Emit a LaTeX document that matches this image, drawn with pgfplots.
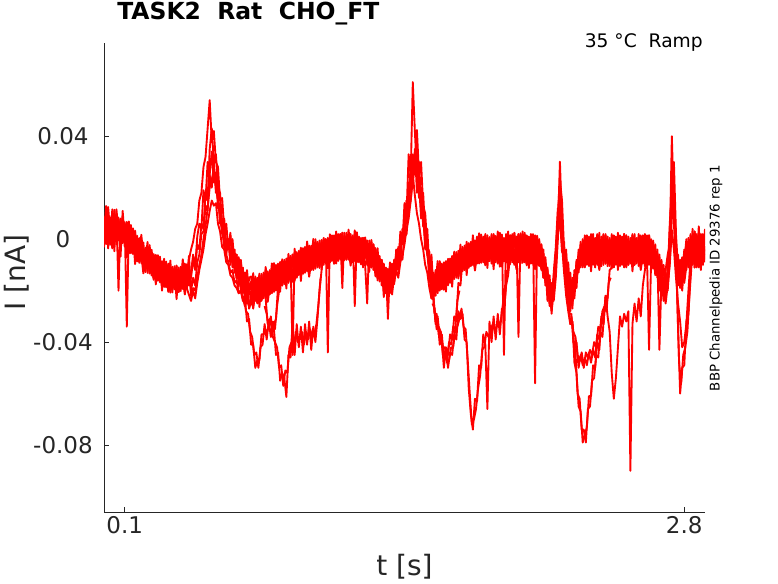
\documentclass[border=0pt]{standalone}
\usepackage{fontspec}
\setmainfont{DejaVu Sans}
\usepackage{pgfplots}
\usepackage{pgfplotstable}
\pgfplotsset{compat=1.18}
\definecolor{axgray}{RGB}{38,38,38}

\pgfplotstableread{
t A B E F
0.00 0.0088 -0.0032 0.0056 0.0007
0.01 -0.0019 0.0101 -0.0018 0.0129
0.02 0.0074 -0.0036 0.0125 -0.0029
0.03 -0.0022 0.0083 0.0024 0.0073
0.04 0.0116 0.0001 -0.0036 0.0097
0.05 -0.0001 0.0109 0.0114 -0.0047
0.06 0.0094 -0.0021 0.0004 0.0116
0.07 -0.0200 0.0075 0.0084 0.0028
0.08 0.0080 -0.0025 -0.0068 0.0079
0.09 -0.0014 0.0086 0.0110 -0.0016
0.10 0.0066 -0.0029 0.0000 0.0049
0.11 -0.0340 0.0067 0.0054 -0.0072
0.12 0.0054 -0.0041 -0.0056 0.0069
0.13 -0.0055 0.0055 -0.0005 -0.0045
0.14 0.0042 -0.0058 0.0027 -0.0033
0.15 -0.0062 0.0028 -0.0097 0.0033
0.16 0.0013 -0.0087 -0.0007 -0.0082
0.17 -0.0092 0.0003 -0.0072 0.0003
0.18 0.0002 -0.0093 0.0017 -0.0063
0.19 -0.0108 -0.0013 -0.0068 -0.0133
0.20 -0.0033 -0.0128 -0.0053 -0.0088
0.21 -0.0131 -0.0036 -0.0116 -0.0011
0.22 -0.0033 -0.0133 -0.0023 -0.0133
0.23 -0.0136 -0.0041 -0.0106 -0.0071
0.24 -0.0058 -0.0153 -0.0158 -0.0063
0.25 -0.0166 -0.0071 -0.0061 -0.0176
0.26 -0.0067 -0.0162 -0.0142 -0.0062
0.27 -0.0163 -0.0068 -0.0088 -0.0128
0.28 -0.0085 -0.0180 -0.0200 -0.0095
0.29 -0.0186 -0.0091 -0.0076 -0.0166
0.30 -0.0087 -0.0187 -0.0157 -0.0122
0.31 -0.0190 -0.0095 -0.0115 -0.0205
0.32 -0.0108 -0.0203 -0.0208 -0.0083
0.33 -0.0207 -0.0107 -0.0152 -0.0192
0.34 -0.0105 -0.0195 -0.0115 -0.0175
0.35 -0.0203 -0.0103 -0.0233 -0.0103
0.36 -0.0110 -0.0205 -0.0130 -0.0205
0.37 -0.0202 -0.0112 -0.0182 -0.0107
0.38 -0.0093 -0.0193 -0.0078 -0.0158
0.39 -0.0185 -0.0095 -0.0150 -0.0215
0.40 -0.0097 -0.0192 -0.0122 -0.0157
0.41 -0.0180 -0.0080 -0.0170 -0.0065
0.42 -0.0150 -0.0040 -0.0130 -0.0200
0.43 -0.0080 -0.0010 -0.0060 -0.0150
0.44 -0.0120 0.0040 -0.0110 -0.0180
0.45 -0.0020 0.0060 0.0010 -0.0090
0.46 -0.0040 0.0150 0.0060 -0.0060
0.47 0.0060 0.0180 0.0040 0.0020
0.48 0.0040 0.0280 0.0190 0.0030
0.49 0.0180 0.0320 0.0150 0.0130
0.50 0.0150 0.0430 0.0300 0.0110
0.51 0.0350 0.0540 0.0250 0.0250
0.52 0.0430 0.0380 0.0340 0.0200
0.53 0.0300 0.0420 0.0220 0.0300
0.54 0.0330 0.0300 0.0260 0.0180
0.55 0.0200 0.0280 0.0120 0.0190
0.56 0.0180 0.0150 0.0140 0.0060
0.57 0.0060 0.0160 0.0020 0.0080
0.58 0.0080 0.0040 0.0050 -0.0030
0.59 -0.0020 0.0060 -0.0060 0.0000
0.60 0.0000 -0.0040 0.0000 -0.0035
0.61 -0.0100 0.0010 -0.0080 0.0025
0.62 -0.0030 -0.0090 0.0000 -0.0110
0.63 -0.0130 -0.0040 -0.0095 -0.0060
0.64 -0.0060 -0.0150 -0.0155 -0.0060
0.65 -0.0170 -0.0080 -0.0070 -0.0185
0.66 -0.0100 -0.0200 -0.0160 -0.0080
0.67 -0.0210 -0.0110 -0.0115 -0.0155
0.68 -0.0130 -0.0240 -0.0235 -0.0130
0.69 -0.0250 -0.0140 -0.0120 -0.0210
0.70 -0.0150 -0.0270 -0.0208 -0.0173
0.71 -0.0145 -0.0245 -0.0165 -0.0255
0.72 -0.0250 -0.0150 -0.0257 -0.0132
0.73 -0.0145 -0.0240 -0.0195 -0.0235
0.74 -0.0245 -0.0150 -0.0152 -0.0212
0.75 -0.0140 -0.0235 -0.0264 -0.0134
0.76 -0.0235 -0.0135 -0.0160 -0.0235
0.77 -0.0130 -0.0230 -0.0211 -0.0136
0.78 -0.0225 -0.0125 -0.0108 -0.0188
0.79 -0.0125 -0.0220 -0.0179 -0.0244
0.80 -0.0215 -0.0120 -0.0150 -0.0185
0.81 -0.0115 -0.0210 -0.0199 -0.0094
0.82 -0.0205 -0.0110 -0.0093 -0.0203
0.83 -0.0100 -0.0200 -0.0162 -0.0127
0.84 -0.0195 -0.0095 -0.0200 -0.0105
0.85 -0.0090 -0.0185 -0.0089 -0.0204
0.86 -0.0180 -0.0085 -0.0158 -0.0078
0.87 -0.0080 -0.0175 -0.0093 -0.0133
0.88 -0.0170 -0.0075 -0.0192 -0.0087
0.89 -0.0070 -0.0165 -0.0057 -0.0147
0.90 -0.0160 -0.0065 -0.0126 -0.0091
0.91 -0.0060 -0.0450 -0.0076 -0.0166
0.92 -0.0150 -0.0055 -0.0162 -0.0037
0.93 -0.0050 -0.0145 -0.0097 -0.0137
0.94 -0.0140 -0.0045 -0.0053 -0.0113
0.95 -0.0040 -0.0135 -0.0163 -0.0033
0.96 -0.0130 -0.0035 -0.0060 -0.0135
0.97 -0.0030 -0.0130 -0.0112 -0.0037
0.98 -0.0125 -0.0030 -0.0009 -0.0089
0.99 -0.0025 -0.0125 -0.0081 -0.0146
1.00 -0.0120 -0.0025 -0.0053 -0.0088
1.01 -0.0020 -0.0115 -0.0104 0.0001
1.02 -0.0115 -0.0015 0.0000 -0.0110
1.03 -0.0010 -0.0110 -0.0071 -0.0036
1.04 -0.0105 -0.0005 -0.0112 -0.0017
1.05 -0.0005 -0.0100 -0.0003 -0.0118
1.06 -0.0100 0.0000 -0.0075 0.0005
1.07 0.0000 -0.0095 -0.0012 -0.0052
1.08 -0.0440 0.0005 -0.0114 -0.0009
1.09 0.0010 -0.0090 0.0019 -0.0071
1.10 -0.0085 0.0015 -0.0053 -0.0018
1.11 0.0015 -0.0085 -0.0006 -0.0096
1.12 -0.0080 0.0020 -0.0095 0.0030
1.13 0.0020 -0.0080 -0.0033 -0.0073
1.14 -0.0080 0.0020 0.0009 -0.0051
1.15 0.0025 -0.0190 -0.0105 0.0025
1.16 -0.0075 0.0025 -0.0006 -0.0081
1.17 0.0025 -0.0080 -0.0062 0.0013
1.18 -0.0080 0.0020 0.0037 -0.0043
1.19 0.0020 -0.0080 -0.0038 -0.0103
1.20 -0.0085 0.0015 -0.0014 -0.0049
1.21 0.0015 -0.0260 -0.0071 0.0034
1.22 -0.0090 0.0010 0.0027 -0.0083
1.23 0.0010 -0.0090 -0.0050 -0.0015
1.24 -0.0095 0.0005 -0.0098 -0.0003
1.25 0.0005 -0.0095 0.0005 -0.0110
1.26 -0.0100 0.0000 -0.0073 0.0007
1.27 -0.0250 -0.0100 -0.0017 -0.0057
1.28 -0.0005 -0.0105 -0.0127 -0.0022
1.29 -0.0110 -0.0010 -0.0003 -0.0093
1.30 -0.0020 -0.0120 -0.0084 -0.0049
1.31 -0.0135 -0.0035 -0.0055 -0.0145
1.32 -0.0050 -0.0150 -0.0160 -0.0035
1.33 -0.0165 -0.0065 -0.0115 -0.0155
1.34 -0.0080 -0.0180 -0.0090 -0.0150
1.35 -0.0200 -0.0100 -0.0225 -0.0095
1.36 -0.0110 -0.0210 -0.0135 -0.0210
1.37 -0.0310 -0.0115 -0.0195 -0.0120
1.38 -0.0110 -0.0210 -0.0090 -0.0170
1.39 -0.0195 -0.0095 -0.0150 -0.0215
1.40 -0.0080 -0.0175 -0.0107 -0.0142
1.41 -0.0130 -0.0040 -0.0060 -0.0110
1.42 -0.0030 -0.0110 -0.0090 -0.0040
1.43 -0.0080 0.0030 0.0000 -0.0070
1.44 0.0020 -0.0020 -0.0020 0.0040
1.45 0.0000 0.0140 0.0090 0.0020
1.46 0.0150 0.0100 0.0060 0.0150
1.47 0.0120 0.0330 0.0220 0.0130
1.48 0.0300 0.0250 0.0180 0.0280
1.49 0.0250 0.0610 0.0330 0.0200
1.50 0.0280 0.0420 0.0250 0.0350
1.51 0.0424 0.0250 0.0300 0.0180
1.52 0.0250 0.0300 0.0160 0.0220
1.53 0.0300 0.0150 0.0200 0.0080
1.54 0.0130 0.0180 0.0050 0.0100
1.55 0.0100 0.0020 0.0040 -0.0040
1.56 -0.0030 0.0040 -0.0060 -0.0020
1.57 -0.0050 -0.0120 -0.0090 -0.0160
1.58 -0.0170 -0.0060 -0.0200 -0.0110
1.59 -0.0130 -0.0200 -0.0150 -0.0230
1.60 -0.0220 -0.0120 -0.0138 -0.0173
1.61 -0.0110 -0.0210 -0.0190 -0.0085
1.62 -0.0200 -0.0100 -0.0085 -0.0195
1.63 -0.0095 -0.0195 -0.0156 -0.0121
1.64 -0.0190 -0.0090 -0.0197 -0.0102
1.65 -0.0085 -0.0185 -0.0089 -0.0204
1.66 -0.0180 -0.0080 -0.0156 -0.0076
1.67 -0.0075 -0.0170 -0.0088 -0.0128
1.68 -0.0165 -0.0065 -0.0185 -0.0080
1.69 -0.0060 -0.0155 -0.0048 -0.0138
1.70 -0.0150 -0.0050 -0.0115 -0.0080
1.71 -0.0045 -0.0140 -0.0063 -0.0153
1.72 -0.0135 -0.0035 -0.0146 -0.0021
1.73 -0.0030 -0.0125 -0.0079 -0.0119
1.74 -0.0120 -0.0025 -0.0032 -0.0092
1.75 -0.0020 -0.0110 -0.0140 -0.0010
1.76 -0.0105 -0.0015 -0.0037 -0.0112
1.77 -0.0010 -0.0105 -0.0089 -0.0014
1.78 -0.0100 -0.0005 0.0015 -0.0065
1.79 -0.0005 -0.0100 -0.0057 -0.0122
1.80 -0.0095 0.0000 -0.0027 -0.0062
1.81 0.0005 -0.0095 -0.0082 0.0023
1.82 -0.0090 0.0010 0.0018 -0.0092
1.83 0.0010 -0.0090 -0.0057 -0.0022
1.84 -0.0095 0.0020 -0.0102 -0.0007
1.85 0.0015 -0.0085 0.0003 -0.0112
1.86 -0.0085 0.0005 -0.0072 0.0008
1.87 0.0020 -0.0095 -0.0012 -0.0052
1.88 -0.0100 0.0015 -0.0117 -0.0012
1.89 0.0010 -0.0090 0.0013 -0.0077
1.90 -0.0090 0.0030 -0.0062 -0.0027
1.91 0.0025 -0.0085 -0.0017 -0.0107
1.92 -0.0095 0.0010 -0.0107 0.0018
1.93 0.0005 -0.0450 -0.0047 -0.0087
1.94 -0.0090 0.0020 -0.0007 -0.0067
1.95 0.0030 -0.0095 -0.0122 0.0008
1.96 -0.0085 0.0015 -0.0022 -0.0097
1.97 0.0020 -0.0090 -0.0077 -0.0002
1.98 -0.0095 0.0025 0.0023 -0.0057
1.99 0.0010 -0.0085 -0.0052 -0.0117
2.00 -0.0380 0.0020 -0.0062 -0.0027
2.01 0.0015 -0.0095 0.0023 -0.0082
2.02 -0.0090 0.0030 -0.0092 0.0018
2.03 0.0025 -0.0090 -0.0022 -0.0057
2.04 -0.0095 0.0015 -0.0007 -0.0102
2.05 0.0010 -0.0085 -0.0112 0.0003
2.06 -0.0090 0.0020 0.0008 -0.0072
2.07 0.0020 -0.0095 -0.0052 -0.0012
2.08 -0.0560 0.0010 -0.0012 -0.0117
2.09 0.0005 -0.0100 -0.0077 0.0013
2.10 -0.0105 0.0000 -0.0027 -0.0062
2.11 -0.0020 -0.0120 -0.0090 -0.0020
2.12 -0.0140 -0.0040 -0.0060 -0.0150
2.13 -0.0070 -0.0180 -0.0170 -0.0100
2.14 -0.0200 -0.0110 -0.0130 -0.0240
2.15 -0.0140 -0.0260 -0.0250 -0.0180
2.16 -0.0270 -0.0170 -0.0190 -0.0290
2.17 -0.0150 -0.0220 -0.0240 -0.0130
2.18 -0.0060 -0.0120 -0.0150 -0.0030
2.19 0.0100 0.0040 0.0000 0.0120
2.20 0.0230 0.0301 0.0200 0.0080
2.21 0.0150 0.0060 0.0060 -0.0050
2.22 -0.0040 -0.0100 -0.0120 -0.0010
2.23 -0.0150 -0.0060 -0.0040 -0.0190
2.24 -0.0090 -0.0200 -0.0230 -0.0140
2.25 -0.0220 -0.0130 -0.0160 -0.0280
2.26 -0.0150 -0.0250 -0.0270 -0.0180
2.27 -0.0210 -0.0120 -0.0140 -0.0230
2.28 -0.0080 -0.0170 -0.0190 -0.0090
2.29 -0.0120 -0.0040 -0.0060 -0.0130
2.30 -0.0020 -0.0100 -0.0110 -0.0010
2.31 -0.0105 0.0000 -0.0020 -0.0110
2.32 0.0005 -0.0100 -0.0110 0.0015
2.33 -0.0100 0.0015 -0.0050 -0.0090
2.34 0.0010 -0.0105 -0.0010 -0.0070
2.35 -0.0095 0.0020 -0.0125 0.0005
2.36 0.0020 -0.0095 -0.0025 -0.0100
2.37 -0.0110 0.0005 -0.0080 -0.0005
2.38 0.0015 -0.0100 0.0020 -0.0060
2.39 -0.0095 0.0025 -0.0055 -0.0120
2.40 0.0010 -0.0105 -0.0030 -0.0065
2.41 -0.0100 0.0015 -0.0085 0.0020
2.42 0.0020 -0.0095 0.0015 -0.0095
2.43 -0.0105 0.0010 -0.0060 -0.0025
2.44 0.0005 -0.0100 -0.0105 -0.0010
2.45 -0.0095 0.0020 0.0000 -0.0115
2.46 0.0015 -0.0110 -0.0075 0.0005
2.47 -0.0100 0.0005 -0.0015 -0.0055
2.48 0.0025 -0.0095 -0.0120 -0.0015
2.49 -0.0105 0.0015 0.0010 -0.0080
2.50 0.0010 -0.0100 -0.0065 -0.0030
2.51 -0.0095 0.0020 -0.0110 -0.0020
2.52 0.0015 -0.0105 0.0015 -0.0110
2.53 -0.0100 0.0010 -0.0090 -0.0050
2.54 0.0005 -0.0095 -0.0070 -0.0010
2.55 -0.0105 0.0020 0.0005 -0.0125
2.56 0.0020 -0.0100 -0.0100 -0.0025
2.57 -0.0095 0.0005 -0.0005 -0.0080
2.58 0.0010 -0.0105 -0.0060 0.0020
2.59 -0.0100 0.0015 -0.0120 -0.0055
2.60 0.0015 -0.0095 -0.0065 -0.0030
2.61 -0.0105 0.0010 0.0020 -0.0085
2.62 0.0005 -0.0100 -0.0095 0.0015
2.63 -0.0100 0.0015 -0.0025 -0.0060
2.64 0.0000 -0.0110 -0.0010 -0.0105
2.65 -0.0115 -0.0005 -0.0110 -0.0040
2.66 -0.0020 -0.0125 -0.0050 -0.0140
2.67 -0.0135 -0.0040 -0.0150 -0.0090
2.68 -0.0060 -0.0160 -0.0110 -0.0200
2.69 -0.0175 -0.0080 -0.0220 -0.0140
2.70 -0.0100 -0.0200 -0.0160 -0.0240
2.71 -0.0200 -0.0120 -0.0230 -0.0170
2.72 -0.0140 -0.0060 -0.0100 -0.0190
2.73 0.0060 -0.0020 -0.0040 0.0040
2.74 0.0200 0.0400 0.0250 0.0100
2.75 0.0300 0.0120 0.0060 0.0200
2.76 0.0020 -0.0060 -0.0100 -0.0020
2.77 -0.0120 -0.0180 -0.0060 -0.0150
2.78 -0.0160 -0.0080 -0.0190 -0.0120
2.79 -0.0070 -0.0150 -0.0110 -0.0200
2.80 -0.0140 -0.0040 -0.0170 -0.0090
2.81 -0.0030 -0.0120 -0.0105 0.0000
2.82 -0.0110 -0.0010 0.0005 -0.0105
2.83 0.0020 -0.0100 -0.0060 -0.0025
2.84 -0.0095 0.0040 -0.0100 -0.0005
2.85 0.0030 -0.0110 0.0005 -0.0110
2.86 -0.0100 0.0020 -0.0070 0.0010
2.87 0.0050 -0.0090 -0.0010 -0.0050
2.88 -0.0120 0.0010 -0.0115 -0.0010
2.89 0.0020 -0.0100 0.0015 -0.0075
2.90 -0.0090 0.0040 -0.0060 -0.0025
}\traceAB

\pgfplotstableread{
t I
0.00 -0.0012
0.02 0.0084
0.04 0.0011
0.06 0.0084
0.08 -0.0020
0.10 0.0061
0.12 -0.0041
0.14 0.0027
0.16 -0.0077
0.18 -0.0013
0.20 -0.0118
0.22 -0.0048
0.24 -0.0153
0.26 -0.0077
0.28 -0.0180
0.30 -0.0102
0.32 -0.0198
0.34 -0.0115
0.36 -0.0205
0.38 -0.0108
0.40 -0.0192
0.42 -0.0240
0.43 -0.0200
0.44 -0.0230
0.45 -0.0170
0.46 -0.0120
0.47 -0.0080
0.48 -0.0040
0.49 0.0020
0.50 0.0060
0.51 0.0110
0.52 0.0150
0.53 0.0130
0.54 0.0140
0.55 0.0060
0.56 0.0030
0.57 -0.0030
0.58 -0.0040
0.59 -0.0090
0.60 -0.0100
0.61 -0.0140
0.62 -0.0150
0.63 -0.0180
0.64 -0.0190
0.65 -0.0210
0.66 -0.0200
0.67 -0.0230
0.68 -0.0260
0.69 -0.0240
0.70 -0.0260
0.71 -0.0220
0.72 -0.0270
0.73 -0.0210
0.74 -0.0250
0.75 -0.0200
0.76 -0.0240
0.77 -0.0190
0.78 -0.0230
0.79 -0.0330
0.80 -0.0310
0.81 -0.0340
0.82 -0.0350
0.83 -0.0450
0.84 -0.0440
0.85 -0.0550
0.86 -0.0520
0.87 -0.0540
0.88 -0.0613
0.89 -0.0450
0.90 -0.0460
0.91 -0.0330
0.92 -0.0450
0.93 -0.0330
0.94 -0.0420
0.95 -0.0340
0.96 -0.0440
0.97 -0.0330
0.98 -0.0410
0.99 -0.0320
1.00 -0.0430
1.01 -0.0340
1.02 -0.0400
1.03 -0.0310
1.04 -0.0200
1.05 -0.0120
1.06 -0.0030
1.08 -0.0090
1.10 0.0010
1.12 -0.0085
1.14 0.0020
1.16 -0.0080
1.18 0.0015
1.20 -0.0090
1.22 0.0005
1.24 -0.0095
1.26 0.0000
1.28 -0.0110
1.30 -0.0020
1.32 -0.0150
1.34 -0.0080
1.36 -0.0200
1.38 -0.0110
1.40 -0.0170
1.41 -0.0120
1.42 -0.0150
1.43 -0.0090
1.44 -0.0060
1.45 -0.0020
1.46 0.0040
1.47 0.0080
1.48 0.0150
1.49 0.0250
1.50 0.0170
1.51 0.0100
1.52 0.0060
1.53 0.0000
1.54 -0.0040
1.55 -0.0100
1.56 -0.0130
1.57 -0.0190
1.58 -0.0230
1.59 -0.0230
1.60 -0.0320
1.61 -0.0300
1.62 -0.0390
1.63 -0.0370
1.64 -0.0460
1.65 -0.0430
1.66 -0.0500
1.67 -0.0440
1.68 -0.0450
1.69 -0.0370
1.70 -0.0390
1.71 -0.0280
1.72 -0.0310
1.73 -0.0290
1.74 -0.0390
1.75 -0.0400
1.76 -0.0580
1.77 -0.0680
1.78 -0.0740
1.79 -0.0620
1.80 -0.0630
1.81 -0.0490
1.82 -0.0500
1.83 -0.0370
1.84 -0.0410
1.85 -0.0660
1.86 -0.0320
1.87 -0.0400
1.88 -0.0300
1.89 -0.0390
1.90 -0.0290
1.91 -0.0370
1.92 -0.0270
1.93 -0.0290
1.94 -0.0180
1.95 -0.0140
1.96 -0.0060
1.98 0.0010
2.00 -0.0090
2.02 0.0020
2.04 -0.0095
2.06 0.0005
2.08 -0.0100
2.10 -0.0010
2.11 -0.0080
2.12 -0.0150
2.13 -0.0090
2.14 -0.0220
2.15 -0.0170
2.16 -0.0280
2.17 -0.0200
2.18 -0.0100
2.19 0.0050
2.20 0.0152
2.21 0.0040
2.22 -0.0060
2.23 -0.0200
2.24 -0.0230
2.25 -0.0330
2.26 -0.0320
2.27 -0.0480
2.28 -0.0520
2.29 -0.0650
2.30 -0.0670
2.31 -0.0790
2.32 -0.0760
2.33 -0.0730
2.34 -0.0610
2.35 -0.0610
2.36 -0.0490
2.37 -0.0500
2.38 -0.0400
2.39 -0.0430
2.40 -0.0310
2.41 -0.0330
2.42 -0.0220
2.43 -0.0230
2.44 -0.0120
2.45 -0.0110
2.47 0.0010
2.49 -0.0095
2.51 0.0020
2.53 -0.0100
2.55 0.0015
2.57 -0.0090
2.59 0.0010
2.61 -0.0100
2.63 0.0015
2.65 -0.0090
2.67 -0.0060
2.69 -0.0150
2.70 -0.0190
2.71 -0.0130
2.72 -0.0200
2.73 -0.0080
2.74 0.0080
2.75 0.0152
2.76 -0.0020
2.77 -0.0350
2.78 -0.0600
2.79 -0.0500
2.80 -0.0490
2.81 -0.0320
2.82 -0.0290
2.83 -0.0130
2.84 -0.0040
2.86 -0.0110
2.88 0.0020
2.90 -0.0080
}\traceC

\pgfplotstableread{
t I
0.01 0.0071
0.03 -0.0007
0.05 0.0094
0.07 -0.0005
0.09 0.0071
0.11 -0.0028
0.13 0.0040
0.15 -0.0062
0.17 0.0003
0.19 -0.0108
0.21 -0.0041
0.23 -0.0141
0.25 -0.0071
0.27 -0.0168
0.29 -0.0096
0.31 -0.0190
0.33 -0.0112
0.35 -0.0203
0.37 -0.0112
0.39 -0.0190
0.41 -0.0105
0.42 -0.0220
0.43 -0.0190
0.44 -0.0200
0.45 -0.0150
0.46 -0.0100
0.47 -0.0060
0.48 0.0000
0.49 0.0050
0.50 0.0120
0.51 0.0200
0.52 0.0230
0.53 0.0270
0.54 0.0200
0.55 0.0150
0.56 0.0080
0.57 0.0030
0.58 -0.0020
0.59 -0.0060
0.60 -0.0090
0.61 -0.0130
0.62 -0.0120
0.63 -0.0170
0.64 -0.0160
0.65 -0.0210
0.66 -0.0200
0.67 -0.0240
0.68 -0.0230
0.69 -0.0320
0.70 -0.0310
0.71 -0.0410
0.72 -0.0410
0.73 -0.0500
0.74 -0.0470
0.75 -0.0470
0.76 -0.0370
0.77 -0.0370
0.78 -0.0360
0.79 -0.0350
0.80 -0.0350
0.81 -0.0360
0.82 -0.0330
0.83 -0.0310
0.84 -0.0180
0.85 -0.0170
0.86 -0.0180
0.87 -0.0120
0.89 -0.0170
0.91 -0.0060
0.93 -0.0150
0.95 -0.0040
0.97 -0.0130
0.99 -0.0030
1.01 -0.0120
1.03 -0.0015
1.05 -0.0100
1.07 0.0000
1.09 -0.0090
1.11 0.0010
1.13 -0.0085
1.15 0.0015
1.17 -0.0080
1.19 0.0010
1.21 -0.0085
1.23 0.0000
1.25 -0.0095
1.27 -0.0005
1.29 -0.0110
1.31 -0.0040
1.33 -0.0160
1.35 -0.0110
1.37 -0.0210
1.39 -0.0100
1.41 -0.0090
1.42 -0.0120
1.43 -0.0060
1.44 -0.0080
1.45 0.0010
1.46 0.0020
1.47 0.0120
1.48 0.0150
1.49 0.0230
1.50 0.0300
1.51 0.0346
1.52 0.0200
1.53 0.0120
1.54 0.0080
1.55 -0.0010
1.56 -0.0060
1.57 -0.0130
1.58 -0.0230
1.59 -0.0230
1.60 -0.0330
1.61 -0.0310
1.62 -0.0410
1.63 -0.0390
1.64 -0.0500
1.65 -0.0420
1.66 -0.0450
1.67 -0.0370
1.68 -0.0390
1.69 -0.0300
1.70 -0.0310
1.71 -0.0170
1.72 -0.0180
1.73 -0.0080
1.74 -0.0120
1.76 -0.0020
1.78 -0.0100
1.80 0.0010
1.82 -0.0090
1.84 0.0015
1.86 -0.0085
1.88 0.0020
1.90 -0.0095
1.92 0.0010
1.94 -0.0090
1.96 0.0015
1.98 -0.0100
2.00 0.0020
2.02 -0.0085
2.04 0.0010
2.06 -0.0095
2.08 0.0015
2.10 -0.0060
2.11 -0.0030
2.12 -0.0060
2.13 -0.0160
2.14 -0.0120
2.15 -0.0230
2.16 -0.0200
2.17 -0.0150
2.18 -0.0060
2.19 0.0020
2.20 0.0074
2.21 -0.0020
2.22 -0.0130
2.23 -0.0220
2.24 -0.0280
2.25 -0.0330
2.26 -0.0320
2.27 -0.0430
2.28 -0.0400
2.29 -0.0500
2.30 -0.0450
2.31 -0.0490
2.32 -0.0460
2.33 -0.0490
2.34 -0.0440
2.35 -0.0480
2.36 -0.0430
2.37 -0.0460
2.38 -0.0370
2.39 -0.0390
2.40 -0.0300
2.41 -0.0330
2.42 -0.0220
2.43 -0.0300
2.44 -0.0360
2.45 -0.0520
2.46 -0.0620
2.47 -0.0540
2.48 -0.0420
2.49 -0.0300
2.50 -0.0340
2.51 -0.0290
2.52 -0.0320
2.53 -0.0280
2.54 -0.0900
2.55 -0.0330
2.56 -0.0250
2.57 -0.0320
2.58 -0.0230
2.59 -0.0300
2.60 -0.0180
2.61 -0.0120
2.62 -0.0060
2.63 -0.0430
2.64 -0.0080
2.65 -0.0020
2.66 -0.0110
2.67 -0.0060
2.68 -0.0430
2.69 -0.0150
2.70 -0.0200
2.71 -0.0250
2.72 -0.0180
2.73 -0.0100
2.74 0.0036
2.75 -0.0040
2.76 -0.0150
2.77 -0.0250
2.78 -0.0320
2.79 -0.0420
2.80 -0.0400
2.81 -0.0330
2.82 -0.0200
2.83 -0.0080
2.85 0.0030
2.87 -0.0110
2.89 0.0010
}\traceD

\pgfplotstableread{
t I
0.675 -0.0220
0.685 -0.0280
0.695 -0.0290
0.705 -0.0360
0.715 -0.0380
0.725 -0.0450
0.735 -0.0440
0.745 -0.0500
0.755 -0.0420
0.765 -0.0410
0.775 -0.0330
0.785 -0.0390
0.795 -0.0320
0.805 -0.0380
0.815 -0.0320
0.825 -0.0350
0.835 -0.0260
0.845 -0.0200
}\dipOne

\pgfplotstableread{
t I
0.775 -0.0260
0.785 -0.0290
0.795 -0.0350
0.805 -0.0300
0.815 -0.0380
0.825 -0.0400
0.835 -0.0420
0.845 -0.0500
0.855 -0.0490
0.865 -0.0570
0.875 -0.0510
0.885 -0.0520
0.895 -0.0420
0.905 -0.0400
0.915 -0.0440
0.925 -0.0360
0.935 -0.0400
0.945 -0.0380
0.955 -0.0360
0.965 -0.0410
0.975 -0.0360
0.985 -0.0390
0.995 -0.0350
1.005 -0.0380
1.015 -0.0370
1.025 -0.0330
1.035 -0.0250
1.045 -0.0150
}\dipTwo

\pgfplotstableread{
t I
1.575 -0.0200
1.585 -0.0190
1.595 -0.0290
1.605 -0.0290
1.615 -0.0370
1.625 -0.0360
1.635 -0.0450
1.645 -0.0460
1.655 -0.0470
1.665 -0.0400
1.675 -0.0410
1.685 -0.0340
1.695 -0.0350
1.705 -0.0240
1.715 -0.0200
}\dipThree

\pgfplotstableread{
t I
1.585 -0.0250
1.595 -0.0270
1.605 -0.0350
1.615 -0.0340
1.625 -0.0360
1.635 -0.0420
1.645 -0.0420
1.655 -0.0480
1.665 -0.0470
1.675 -0.0420
1.685 -0.0420
1.695 -0.0350
1.705 -0.0340
1.715 -0.0310
1.725 -0.0270
1.735 -0.0340
1.745 -0.0350
1.755 -0.0470
1.765 -0.0600
1.775 -0.0720
1.785 -0.0700
1.795 -0.0660
1.805 -0.0580
1.815 -0.0530
1.825 -0.0430
1.835 -0.0420
1.845 -0.0360
1.855 -0.0380
1.865 -0.0360
1.875 -0.0330
1.885 -0.0350
1.895 -0.0340
1.905 -0.0330
1.915 -0.0320
1.925 -0.0250
1.935 -0.0230
1.945 -0.0120
}\dipFour

\pgfplotstableread{
t I
2.225 -0.0150
2.235 -0.0190
2.245 -0.0290
2.255 -0.0290
2.265 -0.0400
2.275 -0.0440
2.285 -0.0600
2.295 -0.0620
2.305 -0.0740
2.315 -0.0740
2.325 -0.0790
2.335 -0.0660
2.345 -0.0650
2.355 -0.0550
2.365 -0.0540
2.375 -0.0450
2.385 -0.0460
2.395 -0.0360
2.405 -0.0380
2.415 -0.0270
2.425 -0.0280
2.435 -0.0170
2.445 -0.0150
}\dipFive

\pgfplotstableread{
t I
2.255 -0.0300
2.265 -0.0360
2.275 -0.0380
2.285 -0.0450
2.295 -0.0470
2.305 -0.0440
2.315 -0.0500
2.325 -0.0440
2.335 -0.0460
2.345 -0.0430
2.355 -0.0450
2.365 -0.0400
2.375 -0.0420
2.385 -0.0340
2.395 -0.0350
2.405 -0.0280
2.415 -0.0260
}\dipSix

\pgfplotstableread{
t I
2.765 -0.0200
2.775 -0.0480
2.785 -0.0560
2.795 -0.0450
2.805 -0.0420
2.815 -0.0360
2.825 -0.0220
2.835 -0.0100
}\dipSeven

\begin{document}
\begin{tikzpicture}
\useasboundingbox (0,0) rectangle (583.5pt,437.25pt);
\begin{axis}[
  at={(78pt,53.25pt)}, anchor=south west,
  scale only axis, width=450.75pt, height=351.75pt,
  xmin=0, xmax=2.9, ymin=-0.106, ymax=0.0762,
  axis x line*=bottom, axis y line*=left,
  axis line style={-, axgray, line width=0.5pt},
  xtick={0.1,2.8}, xticklabels={0.1,2.8},
  ytick={-0.08,-0.04,0,0.04}, yticklabels={-0.08,-0.04,0,0.04},
  tick align=inside, major tick length=4pt,
  tick style={axgray, line width=0.5pt},
  ticklabel style={font=\fontsize{17.25}{20}\selectfont, text=axgray},
  yticklabel style={anchor=center, xshift=-30.75pt},
  xlabel={t [s]}, ylabel={I [nA]},
  label style={font=\fontsize{21}{25}\selectfont, text=axgray},
  xlabel style={at={(axis description cs:0.5,-0.117)}, anchor=center},
  ylabel style={at={(axis description cs:-0.145,0.51)}, anchor=center},
  title={TASK2~~Rat~~CHO\_FT},
  title style={at={(axis description cs:0.0216,1.034)}, anchor=base west, inner sep=0pt, font=\bfseries\fontsize{17.6}{20}\selectfont},
  clip=true,
  trace/.style={red, line width=1.4pt, line join=round, mark=none},
]
\addplot[trace] table[x=t, y=I] {\traceC};
\addplot[trace] table[x=t, y=I] {\traceD};
\addplot[trace] table[x=t, y=A] {\traceAB};
\addplot[trace] table[x=t, y=B] {\traceAB};
\addplot[trace] table[x=t, y=E] {\traceAB};
\addplot[trace] table[x=t, y=F] {\traceAB};
\addplot[trace] table[x=t, y=I] {\dipOne};
\addplot[trace] table[x=t, y=I] {\dipTwo};
\addplot[trace] table[x=t, y=I] {\dipThree};
\addplot[trace] table[x=t, y=I] {\dipFour};
\addplot[trace] table[x=t, y=I] {\dipFive};
\addplot[trace] table[x=t, y=I] {\dipSix};
\addplot[trace] table[x=t, y=I] {\dipSeven};
\end{axis}
\node[anchor=base east, inner sep=0pt, font=\fontsize{14}{16}\selectfont] at (527.25pt,401.25pt) {35 °C~~Ramp};
\node[rotate=90, anchor=center, font=\fontsize{10}{12}\selectfont] at (537pt,228.75pt) {BBP Channelpedia ID 29376 rep 1};
\end{tikzpicture}
\end{document}
